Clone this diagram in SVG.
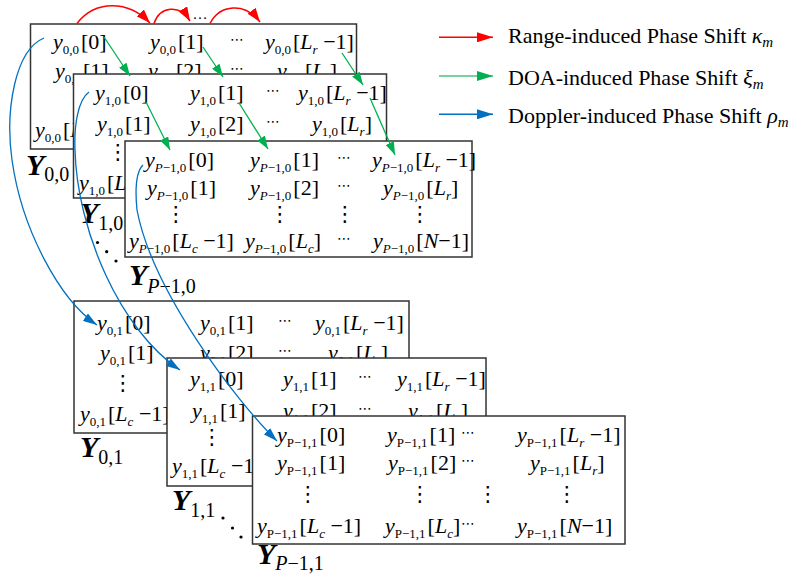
<svg xmlns="http://www.w3.org/2000/svg" width="798" height="575" viewBox="0 0 798 575">
<style>
.b{fill:#fff;stroke:#333;stroke-width:1.5}
.t{font-family:"Liberation Serif","Times New Roman",serif;font-size:22px;fill:#000}
.i{font-style:italic}
.s{font-size:13px}
.h{font-family:"DejaVu Sans",sans-serif;font-size:14px;text-anchor:middle}
.v{font-family:"DejaVu Sans",sans-serif;font-size:21px;text-anchor:middle}
.Y{font-family:"Liberation Serif","Times New Roman",serif;font-size:30px;font-weight:bold;font-style:italic}
.ys{font-size:20px;font-weight:normal;font-style:normal}
.yi{font-style:italic;font-weight:normal}
.lt{font-family:"Liberation Serif","Times New Roman",serif;font-size:22px;fill:#000}
.ls{font-size:15px}
.red{fill:none;stroke:#ff0000;stroke-width:1.5}
.grn{fill:none;stroke:#00b050;stroke-width:1.3}
.blu{fill:none;stroke:#0070c0;stroke-width:1.3}
.dot{fill:#000}
</style>
<defs>
<marker id="mr" viewBox="0 0 14 10" refX="14" refY="5" markerWidth="14" markerHeight="10" orient="auto" markerUnits="userSpaceOnUse"><path d="M0,0L14,5L0,10z" fill="#ff0000"/></marker>
<marker id="mg" viewBox="0 0 13 9" refX="13" refY="4.5" markerWidth="13" markerHeight="9" orient="auto" markerUnits="userSpaceOnUse"><path d="M0,0L13,4.5L0,9z" fill="#00b050"/></marker>
<marker id="mb" viewBox="0 0 14 9" refX="14" refY="4.5" markerWidth="14" markerHeight="9" orient="auto" markerUnits="userSpaceOnUse"><path d="M0,0L14,4.5L0,9z" fill="#0070c0"/></marker>
<marker id="lr" viewBox="0 0 16 10" refX="16" refY="5" markerWidth="16" markerHeight="10" orient="auto" markerUnits="userSpaceOnUse"><path d="M0,0L16,5L0,10z" fill="#ff0000"/></marker>
<marker id="lg" viewBox="0 0 16 10" refX="16" refY="5" markerWidth="16" markerHeight="10" orient="auto" markerUnits="userSpaceOnUse"><path d="M0,0L16,5L0,10z" fill="#00b050"/></marker>
<marker id="lb" viewBox="0 0 16 10" refX="16" refY="5" markerWidth="16" markerHeight="10" orient="auto" markerUnits="userSpaceOnUse"><path d="M0,0L16,5L0,10z" fill="#0070c0"/></marker>
</defs>

<g id="Y00">
<rect class="b" x="30.5" y="24" width="326" height="125"/>
<text class="t" x="53" y="49"><tspan class="i">y</tspan><tspan class="s" dy="5">0,0</tspan><tspan dx="2" dy="-5">[0]</tspan></text>
<text class="t" x="150" y="49"><tspan class="i">y</tspan><tspan class="s" dy="5">0,0</tspan><tspan dx="2" dy="-5">[1]</tspan></text>
<text class="h" x="237" y="44">⋯</text>
<text class="t" x="265" y="49"><tspan class="i">y</tspan><tspan class="s" dy="5">0,0</tspan><tspan dx="2" dy="-5">[</tspan><tspan class="i">L</tspan><tspan class="s i" dy="5">r</tspan><tspan dy="-5"> −1]</tspan></text>
<text class="t" x="55" y="78"><tspan class="i">y</tspan><tspan class="s" dy="5">0,0</tspan><tspan dx="2" dy="-5">[1]</tspan></text>
<text class="t" x="148" y="78"><tspan class="i">y</tspan><tspan class="s" dy="5">0,0</tspan><tspan dx="2" dy="-5">[2]</tspan></text>
<text class="h" x="237" y="73">⋯</text>
<text class="t" x="277" y="78"><tspan class="i">y</tspan><tspan class="s" dy="5">0,0</tspan><tspan dx="2" dy="-5">[</tspan><tspan class="i">L</tspan><tspan class="s i" dy="5">r</tspan><tspan dy="-5">]</tspan></text>
<text class="t" x="35" y="137"><tspan class="i">y</tspan><tspan class="s" dy="5">0,0</tspan><tspan dx="2" dy="-5">[</tspan><tspan class="i">L</tspan><tspan class="s i" dy="5">c</tspan><tspan dy="-5"> −1]</tspan></text>
<text class="Y" x="26" y="175">Y<tspan class="ys" dy="6">0,0</tspan></text>
</g>

<g id="Y10">
<rect class="b" x="73.5" y="74" width="313" height="124"/>
<text class="t" x="95" y="100"><tspan class="i">y</tspan><tspan class="s" dy="5">1,0</tspan><tspan dx="2" dy="-5">[0]</tspan></text>
<text class="t" x="190" y="100"><tspan class="i">y</tspan><tspan class="s" dy="5">1,0</tspan><tspan dx="2" dy="-5">[1]</tspan></text>
<text class="h" x="273" y="95">⋯</text>
<text class="t" x="298" y="100"><tspan class="i">y</tspan><tspan class="s" dy="5">1,0</tspan><tspan dx="2" dy="-5">[</tspan><tspan class="i">L</tspan><tspan class="s i" dy="5">r</tspan><tspan dy="-5"> −1]</tspan></text>
<text class="t" x="97" y="131"><tspan class="i">y</tspan><tspan class="s" dy="5">1,0</tspan><tspan dx="2" dy="-5">[1]</tspan></text>
<text class="t" x="190" y="131"><tspan class="i">y</tspan><tspan class="s" dy="5">1,0</tspan><tspan dx="2" dy="-5">[2]</tspan></text>
<text class="h" x="273" y="126">⋯</text>
<text class="t" x="312" y="131"><tspan class="i">y</tspan><tspan class="s" dy="5">1,0</tspan><tspan dx="2" dy="-5">[</tspan><tspan class="i">L</tspan><tspan class="s i" dy="5">r</tspan><tspan dy="-5">]</tspan></text>
<text class="v" x="118" y="159">⋮</text>
<text class="t" x="79" y="190"><tspan class="i">y</tspan><tspan class="s" dy="5">1,0</tspan><tspan dx="2" dy="-5">[</tspan><tspan class="i">L</tspan><tspan class="s i" dy="5">c</tspan><tspan dy="-5"> −1]</tspan></text>
<text class="Y" x="80" y="223">Y<tspan class="ys" dy="7">1,0</tspan></text>
</g>

<g id="YP0">
<rect class="b" x="125" y="141" width="347" height="116"/>
<text class="t" x="145" y="167"><tspan class="i">y</tspan><tspan class="s" dy="5"><tspan class="i">P</tspan>−1,0</tspan><tspan dx="2" dy="-5">[0]</tspan></text>
<text class="t" x="250" y="167"><tspan class="i">y</tspan><tspan class="s" dy="5"><tspan class="i">P</tspan>−1,0</tspan><tspan dx="2" dy="-5">[1]</tspan></text>
<text class="h" x="344" y="162">⋯</text>
<text class="t" x="372" y="167"><tspan class="i">y</tspan><tspan class="s" dy="5"><tspan class="i">P</tspan>−1,0</tspan><tspan dx="2" dy="-5">[</tspan><tspan class="i">L</tspan><tspan class="s i" dy="5">r</tspan><tspan dy="-5"> −1]</tspan></text>
<text class="t" x="147" y="195"><tspan class="i">y</tspan><tspan class="s" dy="5"><tspan class="i">P</tspan>−1,0</tspan><tspan dx="2" dy="-5">[1]</tspan></text>
<text class="t" x="250" y="195"><tspan class="i">y</tspan><tspan class="s" dy="5"><tspan class="i">P</tspan>−1,0</tspan><tspan dx="2" dy="-5">[2]</tspan></text>
<text class="h" x="344" y="190">⋯</text>
<text class="t" x="383" y="195"><tspan class="i">y</tspan><tspan class="s" dy="5"><tspan class="i">P</tspan>−1,0</tspan><tspan dx="2" dy="-5">[</tspan><tspan class="i">L</tspan><tspan class="s i" dy="5">r</tspan><tspan dy="-5">]</tspan></text>
<text class="v" x="176" y="221">⋮</text>
<text class="v" x="280" y="221">⋮</text>
<text class="v" x="345" y="221">⋮</text>
<text class="v" x="420" y="221">⋮</text>
<text class="t" x="129" y="248"><tspan class="i">y</tspan><tspan class="s" dy="5"><tspan class="i">P</tspan>−1,0</tspan><tspan dx="2" dy="-5">[</tspan><tspan class="i">L</tspan><tspan class="s i" dy="5">c</tspan><tspan dy="-5"> −1]</tspan></text>
<text class="t" x="245" y="248"><tspan class="i">y</tspan><tspan class="s" dy="5"><tspan class="i">P</tspan>−1,0</tspan><tspan dx="2" dy="-5">[</tspan><tspan class="i">L</tspan><tspan class="s i" dy="5">c</tspan><tspan dy="-5">]</tspan></text>
<text class="h" x="344" y="243">⋯</text>
<text class="t" x="373" y="248"><tspan class="i">y</tspan><tspan class="s" dy="5"><tspan class="i">P</tspan>−1,0</tspan><tspan dx="2" dy="-5">[</tspan><tspan class="i">N</tspan><tspan>−1]</tspan></text>
<text class="Y" x="129" y="285">Y<tspan class="ys" dy="8"><tspan class="yi">P</tspan>−1,0</tspan></text>
</g>

<g id="diag0">
<circle class="dot" cx="97.5" cy="242.5" r="1.6"/>
<circle class="dot" cx="106.7" cy="251.7" r="1.6"/>
<circle class="dot" cx="116" cy="261" r="1.6"/>
</g>

<g id="Y01">
<rect class="b" x="74" y="301" width="335" height="132"/>
<text class="t" x="97" y="330"><tspan class="i">y</tspan><tspan class="s" dy="5">0,1</tspan><tspan dx="2" dy="-5">[0]</tspan></text>
<text class="t" x="200" y="330"><tspan class="i">y</tspan><tspan class="s" dy="5">0,1</tspan><tspan dx="2" dy="-5">[1]</tspan></text>
<text class="h" x="285" y="325">⋯</text>
<text class="t" x="315" y="330"><tspan class="i">y</tspan><tspan class="s" dy="5">0,1</tspan><tspan dx="2" dy="-5">[</tspan><tspan class="i">L</tspan><tspan class="s i" dy="5">r</tspan><tspan dy="-5"> −1]</tspan></text>
<text class="t" x="100" y="360"><tspan class="i">y</tspan><tspan class="s" dy="5">0,1</tspan><tspan dx="2" dy="-5">[1]</tspan></text>
<text class="t" x="200" y="360"><tspan class="i">y</tspan><tspan class="s" dy="5">0,1</tspan><tspan dx="2" dy="-5">[2]</tspan></text>
<text class="h" x="285" y="355">⋯</text>
<text class="t" x="328" y="360"><tspan class="i">y</tspan><tspan class="s" dy="5">0,1</tspan><tspan dx="2" dy="-5">[</tspan><tspan class="i">L</tspan><tspan class="s i" dy="5">r</tspan><tspan dy="-5">]</tspan></text>
<text class="v" x="123" y="390">⋮</text>
<text class="t" x="80" y="421"><tspan class="i">y</tspan><tspan class="s" dy="5">0,1</tspan><tspan dx="2" dy="-5">[</tspan><tspan class="i">L</tspan><tspan class="s i" dy="5">c</tspan><tspan dy="-5"> −1]</tspan></text>
<text class="Y" x="80" y="457">Y<tspan class="ys" dy="7">0,1</tspan></text>
</g>

<g id="Y11">
<rect class="b" x="167" y="358" width="319" height="128"/>
<text class="t" x="190" y="386"><tspan class="i">y</tspan><tspan class="s" dy="5">1,1</tspan><tspan dx="2" dy="-5">[0]</tspan></text>
<text class="t" x="283" y="386"><tspan class="i">y</tspan><tspan class="s" dy="5">1,1</tspan><tspan dx="2" dy="-5">[1]</tspan></text>
<text class="h" x="365" y="381">⋯</text>
<text class="t" x="397" y="386"><tspan class="i">y</tspan><tspan class="s" dy="5">1,1</tspan><tspan dx="2" dy="-5">[</tspan><tspan class="i">L</tspan><tspan class="s i" dy="5">r</tspan><tspan dy="-5"> −1]</tspan></text>
<text class="t" x="192" y="418"><tspan class="i">y</tspan><tspan class="s" dy="5">1,1</tspan><tspan dx="2" dy="-5">[1]</tspan></text>
<text class="t" x="283" y="418"><tspan class="i">y</tspan><tspan class="s" dy="5">1,1</tspan><tspan dx="2" dy="-5">[2]</tspan></text>
<text class="h" x="365" y="413">⋯</text>
<text class="t" x="408" y="418"><tspan class="i">y</tspan><tspan class="s" dy="5">1,1</tspan><tspan dx="2" dy="-5">[</tspan><tspan class="i">L</tspan><tspan class="s i" dy="5">r</tspan><tspan dy="-5">]</tspan></text>
<text class="v" x="212" y="444">⋮</text>
<text class="t" x="172" y="473"><tspan class="i">y</tspan><tspan class="s" dy="5">1,1</tspan><tspan dx="2" dy="-5">[</tspan><tspan class="i">L</tspan><tspan class="s i" dy="5">c</tspan><tspan dy="-5"> −1]</tspan></text>
<text class="Y" x="172" y="510">Y<tspan class="ys" dy="7">1,1</tspan></text>
</g>

<g id="YP1">
<rect class="b" x="252.5" y="416" width="372.5" height="128"/>
<text class="t" x="277" y="442"><tspan class="i">y</tspan><tspan class="s" dy="5">P−1,1</tspan><tspan dx="2" dy="-5">[0]</tspan></text>
<text class="t" x="387" y="442"><tspan class="i">y</tspan><tspan class="s" dy="5">P−1,1</tspan><tspan dx="2" dy="-5">[1]</tspan></text>
<text class="h" x="468" y="437">⋯</text>
<text class="t" x="517" y="442"><tspan class="i">y</tspan><tspan class="s" dy="5">P−1,1</tspan><tspan dx="2" dy="-5">[</tspan><tspan class="i">L</tspan><tspan class="s i" dy="5">r</tspan><tspan dy="-5"> −1]</tspan></text>
<text class="t" x="277" y="470"><tspan class="i">y</tspan><tspan class="s" dy="5">P−1,1</tspan><tspan dx="2" dy="-5">[1]</tspan></text>
<text class="t" x="388" y="470"><tspan class="i">y</tspan><tspan class="s" dy="5">P−1,1</tspan><tspan dx="2" dy="-5">[2]</tspan></text>
<text class="h" x="468" y="465">⋯</text>
<text class="t" x="530" y="470"><tspan class="i">y</tspan><tspan class="s" dy="5">P−1,1</tspan><tspan dx="2" dy="-5">[</tspan><tspan class="i">L</tspan><tspan class="s i" dy="5">r</tspan><tspan dy="-5">]</tspan></text>
<text class="v" x="308" y="501">⋮</text>
<text class="v" x="420" y="501">⋮</text>
<text class="v" x="488" y="501">⋮</text>
<text class="v" x="567" y="501">⋮</text>
<text class="t" x="257" y="533"><tspan class="i">y</tspan><tspan class="s" dy="5">P−1,1</tspan><tspan dx="2" dy="-5">[</tspan><tspan class="i">L</tspan><tspan class="s i" dy="5">c</tspan><tspan dy="-5"> −1]</tspan></text>
<text class="t" x="385" y="533"><tspan class="i">y</tspan><tspan class="s" dy="5">P−1,1</tspan><tspan dx="2" dy="-5">[</tspan><tspan class="i">L</tspan><tspan class="s i" dy="5">c</tspan><tspan dy="-5">]</tspan></text>
<text class="h" x="468" y="528">⋯</text>
<text class="t" x="517" y="533"><tspan class="i">y</tspan><tspan class="s" dy="5">P−1,1</tspan><tspan dx="2" dy="-5">[</tspan><tspan class="i">N</tspan><tspan>−1]</tspan></text>
<text class="Y" x="257" y="564">Y<tspan class="ys" dy="6"><tspan class="yi">P</tspan>−1,1</tspan></text>
</g>

<g id="diag1">
<circle class="dot" cx="223" cy="518" r="1.6"/>
<circle class="dot" cx="232.5" cy="528" r="1.6"/>
<circle class="dot" cx="241" cy="537" r="1.6"/>
</g>

<g id="connectors">
<path class="red" d="M77,23.5C95,0 128,0 150,23" marker-end="url(#mr)"/>
<path class="red" d="M154,23.5C160,6 180,4 190,21" marker-end="url(#mr)"/>
<text class="t" x="200" y="19" style="font-size:15px;text-anchor:middle">…</text>
<path class="red" d="M210,23.5C220,4 245,2 260,22" marker-end="url(#mr)"/>
<path class="grn" d="M104,37L130,76" marker-end="url(#mg)"/>
<path class="grn" d="M203,47L223,77" marker-end="url(#mg)"/>
<path class="grn" d="M342,53L363,85" marker-end="url(#mg)"/>
<path class="grn" d="M146,102L170,150" marker-end="url(#mg)"/>
<path class="grn" d="M239,103L268,149" marker-end="url(#mg)"/>
<path class="grn" d="M370,98L395,155" marker-end="url(#mg)"/>
<path class="blu" d="M44,38C15,50 5,110 12,160C21.8,230 60,300 97,325" marker-end="url(#mb)"/>
<path class="blu" d="M89,92C78,100 74,125 75,150C77,230 120,330 180,370" marker-end="url(#mb)"/>
<path class="blu" d="M143,165C136,172 135,190 137,210C152,290 235,400 277,441" marker-end="url(#mb)"/>
</g>

<g id="legend">
<path class="red" d="M439,37.3L493,37.3" marker-end="url(#lr)"/>
<path class="grn" style="stroke:#4cc27a;stroke-width:1.5" d="M439,76L493,76" marker-end="url(#lg)"/>
<path class="blu" style="stroke-width:1.5" d="M439,114.3L493,114.3" marker-end="url(#lb)"/>
<text class="lt" x="508" y="43">Range-induced Phase Shift <tspan class="i">κ</tspan><tspan class="ls i" dy="4">m</tspan></text>
<text class="lt" x="508" y="85">DOA-induced Phase Shift <tspan class="i">ξ</tspan><tspan class="ls i" dy="4">m</tspan></text>
<text class="lt" x="508" y="123">Doppler-induced Phase Shift <tspan class="i">ρ</tspan><tspan class="ls i" dy="4">m</tspan></text>
</g>
</svg>
